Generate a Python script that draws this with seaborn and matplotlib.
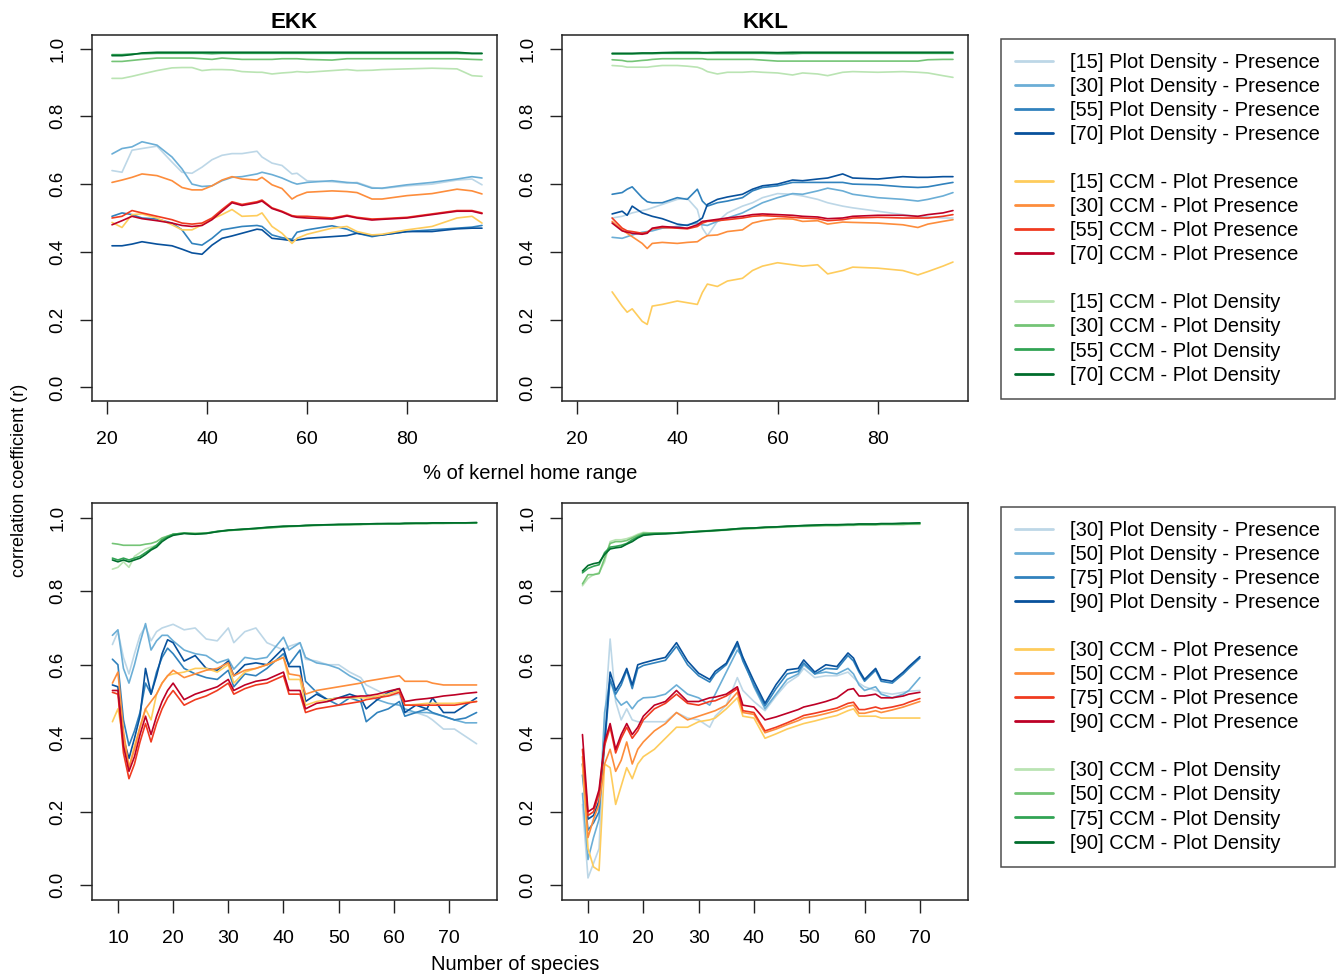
import matplotlib

matplotlib.use("Agg")
import matplotlib.pyplot as plt
from matplotlib.lines import Line2D
import seaborn as sns

# --- EKK, % of kernel home range -------------------------------------------
EKK_X = [21, 23, 25, 27, 30, 33, 35, 37, 39, 41, 43, 45, 47, 50, 51, 53, 55, 57, 58, 60,
         65, 68, 70, 73, 75, 80, 85, 90, 93, 95]
ekk_pdp_15 = [0.640, 0.635, 0.700, 0.705, 0.712, 0.665, 0.635, 0.632, 0.650, 0.672, 0.685, 0.690, 0.690, 0.697, 0.680,
              0.662, 0.655, 0.630, 0.632, 0.610, 0.607, 0.603, 0.605, 0.590, 0.587, 0.595, 0.600, 0.612, 0.615, 0.598]
ekk_pdp_30 = [0.689, 0.705, 0.710, 0.725, 0.715, 0.680, 0.645, 0.600, 0.593, 0.595, 0.610, 0.620, 0.622, 0.630, 0.635,
              0.628, 0.618, 0.605, 0.600, 0.605, 0.610, 0.605, 0.603, 0.588, 0.588, 0.598, 0.605, 0.615, 0.622, 0.618]
ekk_pdp_55 = [0.505, 0.515, 0.510, 0.500, 0.497, 0.485, 0.465, 0.425, 0.420, 0.440, 0.465, 0.470, 0.475, 0.478, 0.475,
              0.450, 0.442, 0.437, 0.458, 0.465, 0.477, 0.467, 0.455, 0.445, 0.450, 0.460, 0.465, 0.470, 0.473, 0.478]
ekk_pdp_70 = [0.418, 0.418, 0.423, 0.430, 0.423, 0.418, 0.408, 0.397, 0.393, 0.420, 0.440, 0.447, 0.455, 0.467, 0.465,
              0.440, 0.437, 0.433, 0.435, 0.440, 0.445, 0.448, 0.455, 0.448, 0.450, 0.460, 0.460, 0.468, 0.470, 0.470]
ekk_ccmp_15 = [0.487, 0.472, 0.510, 0.512, 0.500, 0.480, 0.465, 0.465, 0.480, 0.497, 0.510, 0.525, 0.505, 0.507, 0.515,
               0.475, 0.455, 0.425, 0.440, 0.452, 0.470, 0.475, 0.460, 0.450, 0.452, 0.465, 0.475, 0.500, 0.505, 0.485]
ekk_ccmp_30 = [0.605, 0.612, 0.620, 0.630, 0.625, 0.610, 0.590, 0.583, 0.583, 0.595, 0.612, 0.622, 0.615, 0.612, 0.620,
               0.598, 0.587, 0.556, 0.565, 0.576, 0.580, 0.578, 0.575, 0.556, 0.556, 0.566, 0.572, 0.585, 0.580, 0.571]
ekk_ccmp_55 = [0.500, 0.505, 0.522, 0.515, 0.505, 0.495, 0.485, 0.482, 0.485, 0.500, 0.525, 0.548, 0.540, 0.548, 0.553,
               0.530, 0.520, 0.507, 0.505, 0.505, 0.500, 0.508, 0.502, 0.497, 0.498, 0.502, 0.512, 0.522, 0.522, 0.515]
ekk_ccmp_70 = [0.480, 0.492, 0.505, 0.498, 0.492, 0.485, 0.478, 0.475, 0.478, 0.495, 0.520, 0.545, 0.537, 0.545, 0.550,
               0.528, 0.518, 0.505, 0.502, 0.500, 0.497, 0.506, 0.500, 0.494, 0.496, 0.500, 0.510, 0.520, 0.520, 0.513]
ekk_ccmd_15 = [0.912, 0.912, 0.918, 0.925, 0.935, 0.943, 0.944, 0.944, 0.935, 0.938, 0.938, 0.937, 0.932, 0.930, 0.930,
               0.925, 0.928, 0.930, 0.932, 0.930, 0.935, 0.938, 0.935, 0.936, 0.938, 0.940, 0.942, 0.940, 0.920, 0.918]
ekk_ccmd_30 = [0.962, 0.962, 0.965, 0.968, 0.972, 0.972, 0.972, 0.972, 0.970, 0.968, 0.972, 0.970, 0.968, 0.968, 0.968,
               0.968, 0.970, 0.970, 0.970, 0.968, 0.966, 0.970, 0.970, 0.970, 0.970, 0.970, 0.970, 0.970, 0.968, 0.967]
ekk_ccmd_55 = [0.982, 0.982, 0.984, 0.985, 0.986, 0.986, 0.986, 0.986, 0.986, 0.985, 0.986, 0.986, 0.986, 0.986, 0.986,
               0.986, 0.986, 0.986, 0.986, 0.986, 0.986, 0.986, 0.986, 0.986, 0.986, 0.986, 0.986, 0.986, 0.985, 0.985]
ekk_ccmd_70 = [0.979, 0.979, 0.982, 0.987, 0.989, 0.989, 0.989, 0.989, 0.989, 0.989, 0.989, 0.989, 0.989, 0.989, 0.989,
               0.989, 0.989, 0.989, 0.989, 0.989, 0.989, 0.989, 0.989, 0.989, 0.989, 0.989, 0.989, 0.989, 0.986, 0.986]

# --- KKL, % of kernel home range -------------------------------------------
KKL_X = [27, 29, 30, 31, 33, 34, 35, 37, 40, 42, 44, 45, 46, 48, 50, 53, 55, 57, 60, 63,
         65, 68, 70, 73, 75, 80, 85, 88, 90, 93, 95]
kkl_pdp_15 = [0.500, 0.505, 0.510, 0.515, 0.522, 0.525, 0.530, 0.540, 0.555, 0.558, 0.525, 0.470, 0.448, 0.490, 0.515,
              0.535, 0.545, 0.560, 0.572, 0.570, 0.565, 0.555, 0.545, 0.535, 0.530, 0.520, 0.510, 0.505, 0.503, 0.500, 0.500]
kkl_pdp_30 = [0.443, 0.440, 0.445, 0.450, 0.458, 0.460, 0.462, 0.470, 0.475, 0.480, 0.485, 0.480, 0.478, 0.490, 0.500,
              0.515, 0.530, 0.545, 0.560, 0.572, 0.570, 0.580, 0.588, 0.580, 0.570, 0.560, 0.555, 0.550, 0.555, 0.565, 0.575]
kkl_pdp_55 = [0.570, 0.575, 0.585, 0.592, 0.560, 0.548, 0.545, 0.545, 0.560, 0.555, 0.585, 0.550, 0.535, 0.545, 0.550,
              0.560, 0.580, 0.590, 0.595, 0.605, 0.605, 0.605, 0.605, 0.605, 0.600, 0.598, 0.592, 0.590, 0.592, 0.600, 0.605]
kkl_pdp_70 = [0.512, 0.520, 0.508, 0.535, 0.515, 0.510, 0.505, 0.498, 0.482, 0.478, 0.490, 0.500, 0.540, 0.555, 0.562,
              0.570, 0.585, 0.595, 0.600, 0.612, 0.610, 0.615, 0.618, 0.630, 0.618, 0.615, 0.622, 0.620, 0.620, 0.622, 0.622]
kkl_ccmp_15 = [0.282, 0.240, 0.222, 0.232, 0.195, 0.186, 0.240, 0.245, 0.255, 0.250, 0.245, 0.280, 0.305, 0.298, 0.314,
               0.322, 0.345, 0.358, 0.368, 0.362, 0.358, 0.362, 0.335, 0.345, 0.355, 0.352, 0.345, 0.332, 0.342, 0.358, 0.370]
kkl_ccmp_30 = [0.490, 0.465, 0.455, 0.445, 0.425, 0.410, 0.425, 0.428, 0.425, 0.428, 0.430, 0.440, 0.448, 0.450, 0.460,
               0.465, 0.485, 0.492, 0.498, 0.497, 0.490, 0.492, 0.482, 0.488, 0.487, 0.485, 0.480, 0.472, 0.482, 0.490, 0.495]
kkl_ccmp_55 = [0.500, 0.470, 0.462, 0.460, 0.455, 0.458, 0.468, 0.472, 0.470, 0.468, 0.475, 0.485, 0.490, 0.492, 0.495,
               0.500, 0.505, 0.507, 0.505, 0.502, 0.500, 0.498, 0.492, 0.495, 0.500, 0.502, 0.500, 0.500, 0.500, 0.505, 0.510]
kkl_ccmp_70 = [0.485, 0.462, 0.458, 0.455, 0.452, 0.455, 0.470, 0.475, 0.472, 0.470, 0.480, 0.490, 0.492, 0.496, 0.500,
               0.505, 0.510, 0.512, 0.510, 0.508, 0.505, 0.503, 0.498, 0.500, 0.505, 0.508, 0.508, 0.505, 0.510, 0.515, 0.522]
kkl_ccmd_15 = [0.950, 0.948, 0.945, 0.945, 0.945, 0.945, 0.947, 0.950, 0.950, 0.948, 0.945, 0.940, 0.932, 0.925, 0.930,
               0.930, 0.932, 0.930, 0.928, 0.922, 0.928, 0.925, 0.920, 0.930, 0.932, 0.930, 0.932, 0.930, 0.928, 0.920, 0.915]
kkl_ccmd_30 = [0.967, 0.965, 0.962, 0.962, 0.965, 0.966, 0.968, 0.970, 0.970, 0.970, 0.970, 0.970, 0.968, 0.968, 0.968,
               0.968, 0.968, 0.966, 0.963, 0.963, 0.963, 0.963, 0.963, 0.963, 0.963, 0.963, 0.963, 0.963, 0.967, 0.968, 0.968]
kkl_ccmd_55 = [0.984, 0.984, 0.984, 0.984, 0.985, 0.985, 0.985, 0.986, 0.986, 0.986, 0.986, 0.986, 0.986, 0.986, 0.986,
               0.986, 0.986, 0.986, 0.985, 0.985, 0.986, 0.986, 0.986, 0.986, 0.986, 0.986, 0.986, 0.986, 0.986, 0.986, 0.986]
kkl_ccmd_70 = [0.986, 0.986, 0.986, 0.986, 0.987, 0.987, 0.987, 0.988, 0.989, 0.989, 0.989, 0.988, 0.988, 0.989, 0.989,
               0.989, 0.989, 0.989, 0.988, 0.989, 0.989, 0.989, 0.989, 0.989, 0.989, 0.989, 0.989, 0.989, 0.989, 0.989, 0.989]

# --- EKK, number of species ------------------------------------------------
BL_X = [9, 10, 11, 12, 13, 14, 15, 16, 17, 18, 19, 20, 22, 24, 26, 28, 30, 31, 33, 35, 37,
        40, 41, 43, 44, 46, 48, 50, 52, 54, 55, 57, 59, 61, 62, 64, 66, 67, 69, 71, 73, 75]
bl_pdp_30 = [0.655, 0.690, 0.620, 0.575, 0.630, 0.680, 0.705, 0.665, 0.690, 0.700, 0.705, 0.710, 0.695, 0.700,
             0.670, 0.665, 0.700, 0.660, 0.690, 0.700, 0.660, 0.640, 0.650, 0.660, 0.615, 0.610, 0.600, 0.600,
             0.580, 0.565, 0.545, 0.530, 0.515, 0.520, 0.470, 0.470, 0.460, 0.450, 0.425, 0.425, 0.405, 0.385]
bl_pdp_50 = [0.680, 0.695, 0.590, 0.550, 0.600, 0.660, 0.712, 0.640, 0.665, 0.680, 0.680, 0.665, 0.640, 0.630,
             0.625, 0.605, 0.615, 0.588, 0.620, 0.615, 0.620, 0.675, 0.640, 0.660, 0.620, 0.605, 0.600, 0.590,
             0.570, 0.555, 0.520, 0.505, 0.495, 0.490, 0.480, 0.470, 0.470, 0.468, 0.460, 0.450, 0.442, 0.442]
bl_pdp_75 = [0.615, 0.600, 0.450, 0.380, 0.420, 0.470, 0.550, 0.520, 0.580, 0.620, 0.645, 0.630, 0.590, 0.575,
             0.565, 0.560, 0.585, 0.540, 0.575, 0.570, 0.590, 0.630, 0.600, 0.640, 0.555, 0.525, 0.505, 0.490,
             0.510, 0.500, 0.445, 0.470, 0.480, 0.500, 0.460, 0.470, 0.480, 0.470, 0.460, 0.450, 0.455, 0.470]
bl_pdp_90 = [0.545, 0.540, 0.400, 0.345, 0.400, 0.460, 0.590, 0.520, 0.570, 0.630, 0.668, 0.660, 0.610, 0.625,
             0.590, 0.585, 0.610, 0.570, 0.600, 0.605, 0.600, 0.645, 0.595, 0.595, 0.500, 0.520, 0.505, 0.510,
             0.520, 0.510, 0.480, 0.505, 0.525, 0.535, 0.470, 0.490, 0.480, 0.510, 0.470, 0.470, 0.490, 0.510]
bl_ccmp_30 = [0.445, 0.480, 0.400, 0.320, 0.380, 0.430, 0.480, 0.450, 0.520, 0.550, 0.570, 0.575, 0.580, 0.590,
              0.590, 0.580, 0.600, 0.550, 0.580, 0.590, 0.600, 0.620, 0.560, 0.560, 0.490, 0.500, 0.505, 0.510,
              0.510, 0.510, 0.510, 0.515, 0.520, 0.530, 0.490, 0.492, 0.495, 0.495, 0.495, 0.495, 0.498, 0.500]
bl_ccmp_50 = [0.550, 0.580, 0.420, 0.320, 0.370, 0.430, 0.480, 0.500, 0.520, 0.550, 0.570, 0.585, 0.565, 0.575,
              0.585, 0.590, 0.605, 0.570, 0.585, 0.590, 0.600, 0.620, 0.575, 0.570, 0.520, 0.530, 0.535, 0.540,
              0.545, 0.550, 0.555, 0.560, 0.565, 0.570, 0.555, 0.555, 0.555, 0.550, 0.545, 0.545, 0.545, 0.545]
bl_ccmp_75 = [0.525, 0.520, 0.360, 0.290, 0.330, 0.390, 0.440, 0.390, 0.440, 0.480, 0.510, 0.530, 0.490, 0.505,
              0.515, 0.530, 0.550, 0.520, 0.535, 0.545, 0.550, 0.570, 0.520, 0.520, 0.470, 0.480, 0.485, 0.490,
              0.495, 0.500, 0.505, 0.510, 0.515, 0.525, 0.490, 0.490, 0.490, 0.490, 0.490, 0.490, 0.495, 0.500]
bl_ccmp_90 = [0.530, 0.530, 0.380, 0.310, 0.350, 0.410, 0.460, 0.410, 0.460, 0.500, 0.530, 0.550, 0.505, 0.520,
              0.530, 0.540, 0.560, 0.530, 0.545, 0.555, 0.560, 0.580, 0.530, 0.530, 0.480, 0.495, 0.500, 0.510,
              0.512, 0.515, 0.515, 0.520, 0.528, 0.535, 0.500, 0.505, 0.508, 0.510, 0.515, 0.518, 0.522, 0.525]
bl_ccmd_30 = [0.860, 0.865, 0.880, 0.865, 0.895, 0.905, 0.915, 0.920, 0.925, 0.940, 0.950, 0.955, 0.958, 0.958,
              0.957, 0.962, 0.965, 0.966, 0.968, 0.970, 0.972, 0.975, 0.976, 0.977, 0.978, 0.979, 0.980, 0.980,
              0.981, 0.981, 0.982, 0.982, 0.983, 0.983, 0.983, 0.984, 0.984, 0.984, 0.984, 0.985, 0.985, 0.985]
bl_ccmd_50 = [0.930, 0.928, 0.925, 0.925, 0.925, 0.925, 0.928, 0.930, 0.935, 0.945, 0.950, 0.955, 0.958, 0.957,
              0.958, 0.962, 0.965, 0.966, 0.968, 0.970, 0.972, 0.975, 0.976, 0.977, 0.978, 0.979, 0.980, 0.981,
              0.981, 0.982, 0.982, 0.983, 0.983, 0.983, 0.984, 0.984, 0.984, 0.985, 0.985, 0.985, 0.985, 0.986]
bl_ccmd_75 = [0.890, 0.885, 0.890, 0.885, 0.890, 0.895, 0.905, 0.915, 0.925, 0.940, 0.948, 0.955, 0.958, 0.956,
              0.958, 0.963, 0.966, 0.967, 0.969, 0.971, 0.973, 0.976, 0.977, 0.978, 0.979, 0.980, 0.980, 0.981,
              0.982, 0.982, 0.983, 0.983, 0.984, 0.984, 0.984, 0.985, 0.985, 0.985, 0.985, 0.986, 0.986, 0.986]
bl_ccmd_90 = [0.885, 0.880, 0.885, 0.880, 0.885, 0.890, 0.900, 0.912, 0.920, 0.935, 0.945, 0.952, 0.957, 0.955,
              0.957, 0.962, 0.966, 0.967, 0.969, 0.971, 0.974, 0.977, 0.977, 0.978, 0.979, 0.980, 0.981, 0.982,
              0.982, 0.983, 0.983, 0.984, 0.984, 0.984, 0.985, 0.985, 0.985, 0.986, 0.986, 0.986, 0.986, 0.987]

# --- KKL, number of species ------------------------------------------------
BR_X = [9, 10, 11, 12, 13, 14, 15, 16, 17, 18, 19, 20, 22, 24, 26, 28, 30, 32, 33, 35, 37,
        38, 40, 42, 44, 46, 48, 49, 51, 53, 55, 57, 58, 59, 60, 62, 63, 65, 67, 68, 70]
br_pdp_30 = [0.220, 0.020, 0.060, 0.100, 0.450, 0.670, 0.500, 0.450, 0.480, 0.450, 0.445, 0.445, 0.445, 0.445,
             0.470, 0.455, 0.450, 0.430, 0.460, 0.490, 0.565, 0.530, 0.500, 0.475, 0.515, 0.550, 0.570, 0.590,
             0.565, 0.570, 0.570, 0.580, 0.565, 0.550, 0.540, 0.530, 0.525, 0.520, 0.525, 0.528, 0.530]
br_pdp_50 = [0.250, 0.070, 0.130, 0.180, 0.470, 0.560, 0.510, 0.490, 0.500, 0.480, 0.500, 0.510, 0.512, 0.520,
             0.545, 0.520, 0.510, 0.490, 0.520, 0.580, 0.640, 0.620, 0.540, 0.480, 0.520, 0.560, 0.575, 0.600,
             0.575, 0.580, 0.575, 0.590, 0.575, 0.545, 0.530, 0.540, 0.520, 0.510, 0.520, 0.530, 0.565]
br_pdp_75 = [0.300, 0.150, 0.170, 0.200, 0.380, 0.560, 0.520, 0.545, 0.585, 0.535, 0.590, 0.598, 0.605, 0.612,
             0.650, 0.600, 0.570, 0.553, 0.575, 0.600, 0.655, 0.610, 0.545, 0.488, 0.535, 0.575, 0.582, 0.605,
             0.575, 0.590, 0.588, 0.625, 0.610, 0.580, 0.555, 0.585, 0.555, 0.550, 0.575, 0.590, 0.618]
br_pdp_90 = [0.330, 0.180, 0.190, 0.230, 0.390, 0.580, 0.530, 0.555, 0.590, 0.545, 0.600, 0.605, 0.613, 0.620,
             0.660, 0.610, 0.577, 0.560, 0.582, 0.604, 0.663, 0.620, 0.555, 0.495, 0.546, 0.586, 0.590, 0.613,
             0.580, 0.600, 0.595, 0.632, 0.618, 0.585, 0.560, 0.590, 0.560, 0.555, 0.580, 0.595, 0.622]
br_ccmp_30 = [0.330, 0.100, 0.050, 0.040, 0.330, 0.320, 0.220, 0.270, 0.320, 0.290, 0.330, 0.350, 0.370, 0.400,
              0.430, 0.430, 0.445, 0.450, 0.455, 0.480, 0.510, 0.460, 0.455, 0.400, 0.412, 0.425, 0.435, 0.440,
              0.447, 0.455, 0.462, 0.475, 0.480, 0.460, 0.460, 0.460, 0.455, 0.455, 0.455, 0.455, 0.455]
br_ccmp_50 = [0.350, 0.130, 0.180, 0.220, 0.330, 0.370, 0.310, 0.340, 0.390, 0.330, 0.370, 0.390, 0.420, 0.440,
              0.470, 0.450, 0.460, 0.470, 0.475, 0.490, 0.525, 0.470, 0.465, 0.415, 0.425, 0.437, 0.448, 0.455,
              0.460, 0.467, 0.475, 0.487, 0.490, 0.468, 0.468, 0.475, 0.470, 0.477, 0.485, 0.490, 0.500]
br_ccmp_75 = [0.370, 0.190, 0.200, 0.250, 0.380, 0.430, 0.360, 0.400, 0.430, 0.400, 0.420, 0.450, 0.480, 0.495,
              0.520, 0.495, 0.490, 0.500, 0.502, 0.515, 0.535, 0.475, 0.470, 0.420, 0.430, 0.442, 0.455, 0.462,
              0.468, 0.475, 0.482, 0.495, 0.498, 0.478, 0.478, 0.485, 0.480, 0.485, 0.492, 0.498, 0.508]
br_ccmp_90 = [0.410, 0.200, 0.210, 0.260, 0.390, 0.440, 0.370, 0.410, 0.440, 0.410, 0.430, 0.460, 0.490, 0.500,
              0.530, 0.500, 0.500, 0.510, 0.512, 0.520, 0.540, 0.490, 0.485, 0.450, 0.458, 0.468, 0.478, 0.485,
              0.492, 0.500, 0.510, 0.532, 0.535, 0.515, 0.515, 0.520, 0.510, 0.510, 0.515, 0.520, 0.525]
br_ccmd_30 = [0.815, 0.835, 0.845, 0.850, 0.880, 0.935, 0.940, 0.940, 0.943, 0.948, 0.955, 0.960, 0.958, 0.957,
              0.958, 0.960, 0.962, 0.963, 0.964, 0.966, 0.968, 0.969, 0.970, 0.972, 0.973, 0.975, 0.976, 0.976,
              0.977, 0.978, 0.978, 0.979, 0.979, 0.980, 0.980, 0.980, 0.981, 0.981, 0.981, 0.982, 0.982]
br_ccmd_50 = [0.820, 0.845, 0.845, 0.848, 0.890, 0.930, 0.935, 0.935, 0.938, 0.945, 0.952, 0.958, 0.958, 0.958,
              0.959, 0.961, 0.963, 0.964, 0.965, 0.967, 0.969, 0.970, 0.971, 0.973, 0.974, 0.976, 0.977, 0.977,
              0.978, 0.979, 0.979, 0.980, 0.980, 0.981, 0.981, 0.981, 0.982, 0.982, 0.982, 0.983, 0.983]
br_ccmd_75 = [0.850, 0.862, 0.868, 0.872, 0.905, 0.920, 0.922, 0.925, 0.930, 0.940, 0.948, 0.955, 0.957, 0.958,
              0.959, 0.961, 0.963, 0.965, 0.966, 0.968, 0.970, 0.971, 0.972, 0.974, 0.975, 0.976, 0.977, 0.978,
              0.979, 0.980, 0.980, 0.981, 0.981, 0.982, 0.982, 0.982, 0.983, 0.983, 0.984, 0.984, 0.985]
br_ccmd_90 = [0.855, 0.870, 0.875, 0.878, 0.900, 0.915, 0.918, 0.920, 0.928, 0.935, 0.945, 0.952, 0.955, 0.956,
              0.958, 0.960, 0.962, 0.964, 0.965, 0.967, 0.970, 0.971, 0.972, 0.974, 0.975, 0.977, 0.978, 0.979,
              0.980, 0.981, 0.981, 0.982, 0.982, 0.983, 0.983, 0.983, 0.984, 0.984, 0.985, 0.985, 0.986]

# legend text
TOP_LEVELS = ["15", "30", "55", "70"]
BOT_LEVELS = ["30", "50", "75", "90"]
KINDS = ["Plot Density - Presence", "CCM - Plot Presence", "CCM - Plot Density"]

# colorbrewer (Blues / YlOrRd / Greens, 4 darker steps)
BLUES = ["#bdd7e7", "#6baed6", "#3182bd", "#08519c"]
ORANGES = ["#fecc5c", "#fd8d3c", "#f03b20", "#bd0026"]
GREENS = ["#bae4b3", "#74c476", "#31a354", "#006d2c"]
PALETTES = [BLUES, ORANGES, GREENS]

sns.set_style("ticks")
plt.rcParams["font.family"] = ["Liberation Sans", "DejaVu Sans"]
# R base graphics look: everything black
plt.rcParams.update({"text.color": "black", "axes.labelcolor": "black",
                     "xtick.color": "black", "ytick.color": "black"})

W, H = 1336, 976
fig = plt.figure(figsize=(W / 100, H / 100), dpi=100)


def px_axes(x0, y0, x1, y1):
    # pixel box -> figure fraction
    return fig.add_axes([x0 / W, 1 - y1 / H, (x1 - x0) / W, (y1 - y0) / H])


def panel(ax, x, groups, xlim, xticks):
    for grp, cols in zip(groups, PALETTES):
        for vals, c in zip(grp, cols):
            assert len(vals) == len(x)
            sns.lineplot(x=x, y=vals, ax=ax, color=c, linewidth=1.2, legend=False)
    ax.set_xlim(*xlim)
    ax.set_ylim(-0.04, 1.04)
    ax.set_xticks(xticks)
    ax.set_yticks([0.0, 0.2, 0.4, 0.6, 0.8, 1.0])
    ax.set_yticklabels(["0.0", "0.2", "0.4", "0.6", "0.8", "1.0"], rotation=90, va="center")
    ax.set_xlabel("")
    ax.set_ylabel("")
    ax.tick_params(axis="both", length=9, width=1.0, color="#222222")
    ax.tick_params(axis="x", labelsize=14, pad=12.5)
    ax.tick_params(axis="y", labelsize=13.5, pad=9.5)
    for s in ax.spines.values():
        s.set_linewidth(1.1)
        s.set_color("#222222")


ax_tl = px_axes(92, 35, 497, 401)
ax_tr = px_axes(562, 35, 968, 401)
ax_bl = px_axes(92, 503, 497, 900)
ax_br = px_axes(562, 503, 968, 900)

panel(ax_tl, EKK_X,
      [[ekk_pdp_15, ekk_pdp_30, ekk_pdp_55, ekk_pdp_70],
       [ekk_ccmp_15, ekk_ccmp_30, ekk_ccmp_55, ekk_ccmp_70],
       [ekk_ccmd_15, ekk_ccmd_30, ekk_ccmd_55, ekk_ccmd_70]],
      (17, 98), [20, 40, 60, 80])
panel(ax_tr, KKL_X,
      [[kkl_pdp_15, kkl_pdp_30, kkl_pdp_55, kkl_pdp_70],
       [kkl_ccmp_15, kkl_ccmp_30, kkl_ccmp_55, kkl_ccmp_70],
       [kkl_ccmd_15, kkl_ccmd_30, kkl_ccmd_55, kkl_ccmd_70]],
      (17, 98), [20, 40, 60, 80])
panel(ax_bl, BL_X,
      [[bl_pdp_30, bl_pdp_50, bl_pdp_75, bl_pdp_90],
       [bl_ccmp_30, bl_ccmp_50, bl_ccmp_75, bl_ccmp_90],
       [bl_ccmd_30, bl_ccmd_50, bl_ccmd_75, bl_ccmd_90]],
      (5.3, 78.7), [10, 20, 30, 40, 50, 60, 70])
panel(ax_br, BR_X,
      [[br_pdp_30, br_pdp_50, br_pdp_75, br_pdp_90],
       [br_ccmp_30, br_ccmp_50, br_ccmp_75, br_ccmp_90],
       [br_ccmd_30, br_ccmd_50, br_ccmd_75, br_ccmd_90]],
      (5.3, 78.7), [10, 20, 30, 40, 50, 60, 70])

ax_tl.set_title("EKK", fontweight="bold", fontsize=16, pad=5)
ax_tr.set_title("KKL", fontweight="bold", fontsize=16, pad=5)

fig.text(530 / W, 1 - 474 / H, "% of kernel home range", ha="center", va="center", fontsize=14.5)
fig.text(515 / W, 1 - 965 / H, "Number of species", ha="center", va="center", fontsize=14.5)
fig.text(20 / W, 1 - 480 / H, "correlation coefficient (r)", ha="center", va="center",
         rotation=90, fontsize=13)


def add_legend(levels, top_px):
    handles, labels = [], []
    for gi, (kind, cols) in enumerate(zip(KINDS, PALETTES)):
        if gi > 0:
            handles.append(Line2D([], [], linestyle="none"))
            labels.append(" ")
        for lev, c in zip(levels, cols):
            handles.append(Line2D([], [], color=c, linewidth=2.0))
            labels.append(f"[{lev}] {kind}")
    leg = fig.legend(handles, labels, loc="upper left", bbox_to_anchor=(1001 / W, 1 - top_px / H),
                     frameon=True, fancybox=False, edgecolor="#222222", fontsize=14.5,
                     handlelength=1.9, handletextpad=0.85, labelspacing=0.25, borderpad=0.7,
                     borderaxespad=0.0)
    leg.get_frame().set_linewidth(1.1)
    return leg


add_legend(TOP_LEVELS, 39)
add_legend(BOT_LEVELS, 507)

fig.savefig("out.png", dpi=100)
